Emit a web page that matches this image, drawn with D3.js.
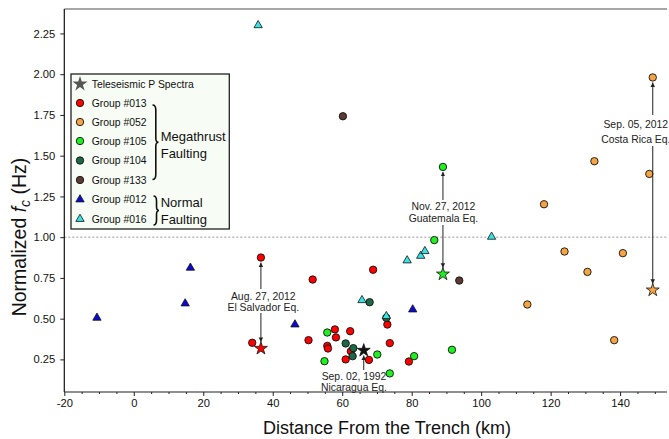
<!DOCTYPE html>
<html><head><meta charset="utf-8">
<script src="https://cdn.jsdelivr.net/npm/d3@7"></script>
<style>
html,body{margin:0;padding:0;background:#fff;}
svg{display:block;font-family:"Liberation Sans",Arial,sans-serif;}
</style></head>
<body><svg id="c" width="669" height="439"></svg>
<script>
// ---------- data ----------
const groupNames = ["Group #013","Group #052","Group #105","Group #104","Group #133","Group #012","Group #016"];
const g013_x = [36.6, 51.5, 68.9, 34.1, 50.3, 57.9, 58.2, 55.7, 55.9, 61.0, 62.3, 62.5, 67.7, 73.0, 73.7, 79.2];
const g013_y = [0.875,0.740,0.800,0.352,0.368,0.434,0.385,0.333,0.317,0.250,0.423,0.300,0.247,0.464,0.350,0.237];
const g052_x = [149.4, 132.6, 148.4, 118.1, 124.0, 140.8, 130.6, 113.3, 138.3];
const g052_y = [1.980, 1.466, 1.388, 1.202, 0.912, 0.902, 0.787, 0.587, 0.368];
const g105_x = [55.7, 54.9, 70.1, 80.7, 91.6, 73.7, 86.5, 89.0];
const g105_y = [0.415,0.239,0.280,0.270,0.309,0.164,0.982,1.431];
const g104_x = [61.0, 63.2, 63.0, 67.9, 72.7];
const g104_y = [0.348,0.319,0.270,0.601,0.505];
const g133_x = [93.7, 60.2];
const g133_y = [0.734, 1.742];
const g012_x = [-10.6, 14.8, 16.3, 46.4, 80.3];
const g012_y = [0.505, 0.593, 0.812, 0.464, 0.556];
const g016_x = [35.8, 65.7, 72.7, 78.7, 82.6, 83.8, 103.0];
const g016_y = [2.300,0.613,0.515,0.857,0.885,0.914,1.002];
// teleseismic P spectra stars
const starNames = ["El Salvador","Guatemala","Costa Rica","Nicaragua"];
const star_x = [36.6, 89.0, 149.4, 66.2];
const star_y = [0.317, 0.773, 0.675, 0.305];
const starGroup = [0, 2, 1, -1];
const annLines = [["Aug. 27, 2012","El Salvador Eq."],["Nov. 27, 2012","Guatemala Eq."],["Sep. 05, 2012","Costa Rica Eq."],["Sep. 02, 1992","Nicaragua Eq."]];
const annUpTarget = [0.875, 1.431, 1.980, null]; // point the upward arrow points to
const xTicks = [-20,0,20,40,60,80,100,120,140];
const yTicks = [0.25,0.5,0.75,1.0,1.25,1.5,1.75,2.0,2.25];

// ---------- styles ----------
const colors = ["#ff0000","#f5a443","#1ff01f","#1b6a45","#5a3a33","#0a0ad2","#38e3e3"];
const shapes = ["circle","circle","circle","circle","circle","triangle","triangle"];
const groups = [[g013_x,g013_y],[g052_x,g052_y],[g105_x,g105_y],[g104_x,g104_y],[g133_x,g133_y],[g012_x,g012_y],[g016_x,g016_y]];

const svg = d3.select("#c");
const L = 64.3, R = 667, T = 9, B = 392;
const x = d3.scaleLinear().domain([-20,153.5]).range([L,R]);
const y = d3.scaleLinear().domain([0.05,2.4]).range([B,T]);

// reference line at 1.0
svg.append("line").attr("x1",L).attr("x2",R).attr("y1",y(1)).attr("y2",y(1))
  .attr("stroke","#999").attr("stroke-width",1).attr("stroke-dasharray","2,2");

// frame
svg.append("line").attr("x1",L).attr("x2",R).attr("y1",T).attr("y2",T).attr("stroke","#8a8a8a").attr("stroke-width",1.5);

// axes
const xAx = svg.append("g").attr("transform",`translate(0,${B})`)
  .call(d3.axisBottom(x).tickValues(xTicks).tickSize(4).tickPadding(3).tickFormat(d=>String(d)));
const minor = d3.range(-20,154,5).filter(v=>v%20!==0);
const xMin = svg.append("g").attr("transform",`translate(0,${B})`)
  .call(d3.axisBottom(x).tickValues(minor).tickSize(2).tickFormat(""));
const yAx = svg.append("g").attr("transform",`translate(${L},0)`)
  .call(d3.axisLeft(y).tickValues(yTicks).tickSize(4).tickPadding(5).tickFormat(d3.format(".2f")));
[xAx,xMin,yAx].forEach(g=>{g.select(".domain").remove(); g.selectAll("line").attr("stroke","#222");
  g.selectAll("text").attr("font-family","Liberation Sans, Arial, sans-serif").attr("font-size",11.2).attr("fill","#111");});
svg.append("line").attr("x1",L).attr("x2",R).attr("y1",B).attr("y2",B).attr("stroke","#222").attr("stroke-width",1.2);
svg.append("line").attr("x1",L).attr("x2",L).attr("y1",T).attr("y2",B).attr("stroke","#111").attr("stroke-width",1.2);

// axis titles
svg.append("text").attr("x",387).attr("y",434).attr("text-anchor","middle").attr("font-size",18).attr("fill","#111")
  .text("Distance From the Trench (km)");
const yt = svg.append("text").attr("transform","translate(26,237) rotate(-90)").attr("text-anchor","middle").attr("font-size",19.5).attr("fill","#111");
yt.append("tspan").text("Normalized ");
yt.append("tspan").attr("font-style","italic").text("f");
yt.append("tspan").attr("font-style","italic").attr("font-size",14).attr("dy",4).text("c");
yt.append("tspan").attr("dy",-4).text(" (Hz)");

// markers
const circR = 3.7, triSize = 30, starSize = 52;
groups.forEach((g,i)=>{
  const pts = g[0].map((v,k)=>[v,g[1][k]]);
  const sel = svg.append("g");
  if(shapes[i]==="circle"){
    sel.selectAll("circle").data(pts).join("circle").attr("cx",d=>x(d[0])).attr("cy",d=>y(d[1])).attr("r",circR)
      .attr("fill",colors[i]).attr("stroke","#111").attr("stroke-width",0.9);
  } else {
    sel.selectAll("path").data(pts).join("path").attr("d",d3.symbol(d3.symbolTriangle,triSize))
      .attr("transform",d=>`translate(${x(d[0])},${y(d[1])})`)
      .attr("fill",colors[i]).attr("stroke","#111").attr("stroke-width",0.8);
  }
});

// annotations
const defs = svg.append("defs");
defs.append("marker").attr("id","ah").attr("viewBox","0 0 10 10").attr("refX",10).attr("refY",5)
  .attr("markerWidth",4.5).attr("markerHeight",5).attr("orient","auto-start-reverse").attr("markerUnits","userSpaceOnUse")
  .append("path").attr("d","M0,0 L10,5 L0,10 Z").attr("fill","#222");
const annTextPos = [[263.3,296,307],[443.4,206,218.5],[635.8,124,139],[354,376.6,387.6]];
const annUpFrom = [289,200,115,370];
const annDownFrom = [313,225,146,null];
star_x.forEach((sx,i)=>{
  const px = x(sx);
  const [tx,ty1,ty2] = annTextPos[i];
  const tg = svg.append("g").attr("font-size",10.4).attr("fill","#222").attr("text-anchor","middle");
  tg.append("text").attr("x",tx).attr("y",ty1).attr("dy","0.35em").text(annLines[i][0]);
  tg.append("text").attr("x",tx).attr("y",ty2).attr("dy","0.35em").text(annLines[i][1]);
  const upTo = annUpTarget[i]!==null ? y(annUpTarget[i])+5 : y(star_y[i])+5;
  svg.append("line").attr("x1",px).attr("x2",px).attr("y1",annUpFrom[i]).attr("y2",upTo)
    .attr("stroke","#222").attr("stroke-width",1).attr("marker-end","url(#ah)");
  if(annDownFrom[i]!==null){
    svg.append("line").attr("x1",px).attr("x2",px).attr("y1",annDownFrom[i]).attr("y2",y(star_y[i])-6.5)
      .attr("stroke","#222").attr("stroke-width",1).attr("marker-end","url(#ah)");
  }
});

// stars
svg.append("g").selectAll("path").data(star_x.map((v,k)=>[v,star_y[k],starGroup[k]])).join("path")
  .attr("d",d3.symbol(d3.symbolStar,starSize))
  .attr("transform",d=>`translate(${x(d[0])},${y(d[1])})`)
  .attr("fill",d=>d[2]>=0?colors[d[2]]:"#111").attr("stroke","#111").attr("stroke-width",0.8);

// legend
const lg = svg.append("g");
lg.append("rect").attr("x",71).attr("y",74).attr("width",158.3).attr("height",155)
  .attr("fill","#f7fcf5").attr("stroke","#222").attr("stroke-width",1.3);
const rowY = [84,103,122,141,160.5,180,199.5,219];
lg.append("path").attr("d",d3.symbol(d3.symbolStar,70)).attr("transform",`translate(80,${rowY[0]})`).attr("fill","#555");
lg.append("text").attr("x",91.7).attr("y",rowY[0]).attr("dy","0.35em").attr("font-size",10.4).attr("fill","#111").text("Teleseismic P Spectra");
groupNames.forEach((n,i)=>{
  const yy = rowY[i+1];
  if(shapes[i]==="circle"){
    lg.append("circle").attr("cx",80).attr("cy",yy).attr("r",circR).attr("fill",colors[i]).attr("stroke","#111").attr("stroke-width",0.9);
  } else {
    lg.append("path").attr("d",d3.symbol(d3.symbolTriangle,triSize)).attr("transform",`translate(80,${yy})`)
      .attr("fill",colors[i]).attr("stroke","#111").attr("stroke-width",0.8);
  }
  lg.append("text").attr("x",91.7).attr("y",yy).attr("dy","0.35em").attr("font-size",10.4).attr("fill","#111").text(n);
});
function brace(x0, y0, y1, w){
  const m = (y0+y1)/2;
  return `M${x0},${y0} Q${x0+w*0.55},${y0} ${x0+w*0.55},${y0+5} L${x0+w*0.55},${m-4} Q${x0+w*0.55},${m} ${x0+w},${m}`+
         ` Q${x0+w*0.55},${m} ${x0+w*0.55},${m+4} L${x0+w*0.55},${y1-5} Q${x0+w*0.55},${y1} ${x0},${y1}`;
}
lg.append("path").attr("d",brace(152.5,105,179.5,6)).attr("fill","none").attr("stroke","#111").attr("stroke-width",1.6);
lg.append("path").attr("d",brace(153.5,196,225,5.5)).attr("fill","none").attr("stroke","#111").attr("stroke-width",1.6);
const bl = [["Megathrust",136.7],["Faulting",153.3],["Normal",202.3],["Faulting",219]];
bl.forEach(b=>lg.append("text").attr("x",160.7).attr("y",b[1]).attr("dy","0.35em").attr("font-size",13).attr("fill","#111").text(b[0]));
</script></body></html>
